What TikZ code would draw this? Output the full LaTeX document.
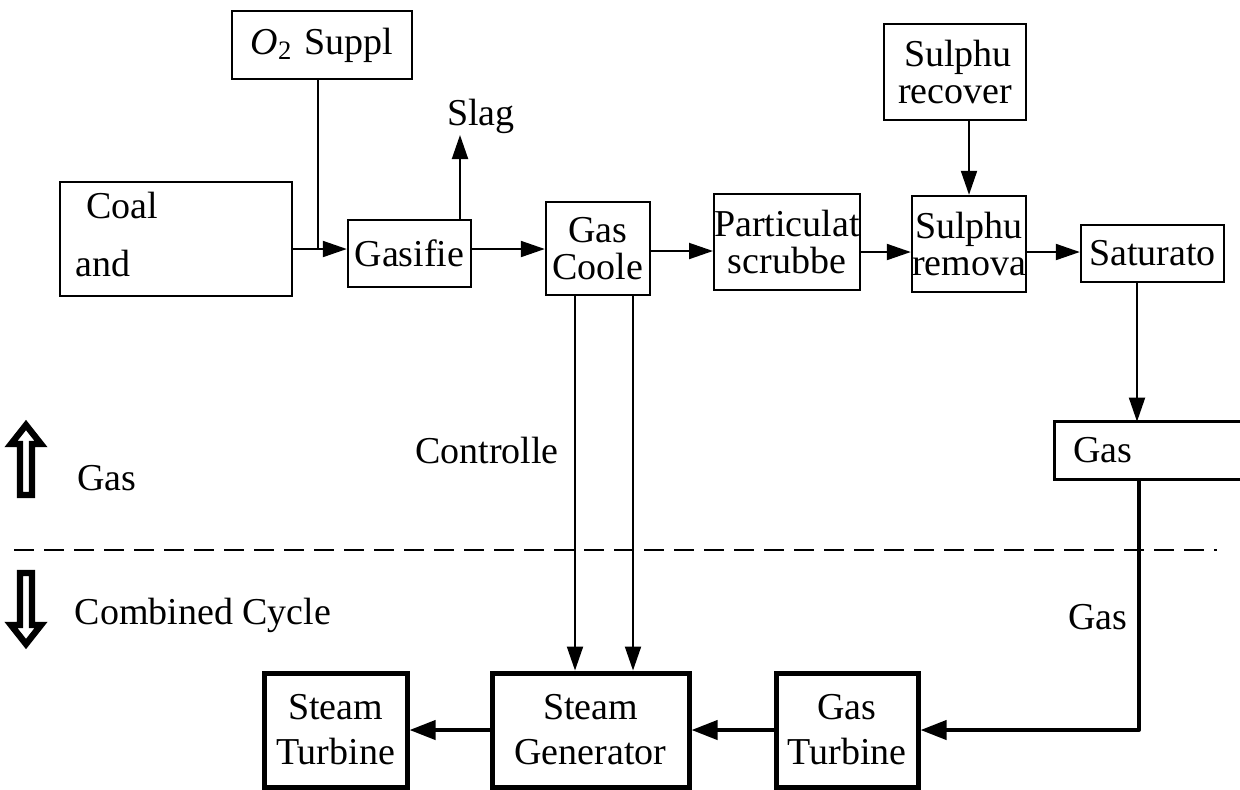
\documentclass[tikz,border=0pt]{standalone}
\usepackage{fontspec}
\setmainfont{Liberation Serif}
\usetikzlibrary{arrows.meta}
\begin{document}
\begin{tikzpicture}[x=0.5pt,y=-0.5pt,
 box/.style={draw, line width=1.2pt, rectangle, inner sep=0pt, align=center, font=\fontsize{19}{18.5}\selectfont},
 tbox/.style={box, line width=2.5pt, font=\fontsize{19}{22.5}\selectfont},
 ghost/.style={rectangle, inner sep=0pt},
 lbl/.style={inner sep=0pt, font=\fontsize{19}{22}\selectfont},
 arr/.style={line width=1pt, -{Triangle[length=12pt,width=8pt]}},
 tarr/.style={line width=2pt, -{Triangle[length=13pt,width=9.5pt]}},
 thinline/.style={line width=1pt},
 hollow/.style={draw=black, fill=white, line width=3.2pt, line join=miter}
]
\useasboundingbox (0,0) rectangle (1240,789);

% upper boxes
\node[box, minimum width=90pt, minimum height=34pt] (o2) at (322,45) {\textit{O}\textsubscript{2}\hspace{6pt}Suppl};
\node[box, minimum width=116pt, minimum height=57pt] (coal) at (176,239) {};
\node[lbl] (coalt) at (122,205) {Coal};
\node[lbl] (andt) at (103,263) {and};
\node[box, minimum width=61.5pt, minimum height=33.5pt] (gasif) at (409.5,253.5) {Gasifie};
\node[box, minimum width=52pt, minimum height=46.5pt] (gcool) at (598,248.5) {Gas\\Coole};
\node[box, minimum width=72pt, minimum height=48pt] (part) at (787,242) {Particulat\\scrubbe};
\node[box, minimum width=57pt, minimum height=48pt] (srem) at (969,244) {Sulphu\\remova};
\node[box, minimum width=71pt, minimum height=48pt, align=right] (srec) at (955,72) {\hfill Sulphu\\recover};
\node[box, minimum width=71.5pt, minimum height=28.5pt] (sat) at (1152.5,253.5) {Saturato};
\node[ghost, minimum width=92.5pt, minimum height=28.5pt] (gasbox) at (1147.5,450.5) {};
\draw[line width=1.2pt] (gasbox.north east) -- (gasbox.north west) -- (gasbox.south west) -- (gasbox.south east);
\node[lbl] (gasboxt) at (1103,450) {Gas};

% lower boxes
\node[tbox, minimum width=71.5pt, minimum height=57pt] (steamT) at (335.5,730) {Steam\\Turbine};
\node[tbox, minimum width=98.5pt, minimum height=57pt] (steamG) at (590.5,730) {Steam\\Generator};
\node[tbox, minimum width=71pt, minimum height=57pt] (gasT) at (847,730) {Gas\\Turbine};

% labels
\node[lbl] (slag) at (481,116) {Slag};
\node[lbl] (gaslbl) at (107,478) {Gas};
\node[lbl] (cc) at (203,615) {Combined Cycle};
\node[lbl] (ctrl) at (487,450) {Controlle};
\node[lbl] (gas2) at (1098,617) {Gas};

% connectors
\coordinate (j) at (318,249);
\draw[thinline] (o2.south -| j) -- (j);
\draw[arr] (coal.east |- j) -- (gasif.west |- j);
\coordinate (slagtip) at (460,135);
\draw[arr] (gasif.north -| slagtip) -- (slagtip);
\draw[arr] (gasif.east |- j) -- (gcool.west |- j);
\coordinate (r1) at (0,251);
\draw[arr] (gcool.east |- r1) -- (part.west |- r1);
\coordinate (r2) at (0,252);
\draw[arr] (part.east |- r2) -- (srem.west |- r2);
\draw[arr] (srem.east |- r2) -- (sat.west |- r2);
\draw[arr] (srec.south -| srem) -- (srem.north);
\coordinate (c1) at (1137,0);
\draw[arr] (sat.south -| c1) -- (gasbox.north -| c1);
\coordinate (c2) at (1139,730);
\draw[tarr, line join=round] (gasbox.south -| c2) -- (c2) -- (gasT.east |- c2);
\draw[tarr] (gasT.west) -- (steamG.east);
\draw[tarr] (steamG.west) -- (steamT.east);
\coordinate (v1) at (575,0);
\coordinate (v2) at (633,0);
\draw[arr] (gcool.south -| v1) -- (steamG.north -| v1);
\draw[arr] (gcool.south -| v2) -- (steamG.north -| v2);

% divider
\draw[thinline, dash pattern=on 10pt off 5pt] (14,550) -- (1217,550);

% hollow arrows
\draw[hollow] (26,425) -- (41,444) -- (32,444) -- (32,495) -- (20,495) -- (20,444) -- (11,444) -- cycle;
\draw[hollow] (26,644) -- (41,625) -- (32,625) -- (32,573) -- (20,573) -- (20,625) -- (11,625) -- cycle;
\end{tikzpicture}
\end{document}
